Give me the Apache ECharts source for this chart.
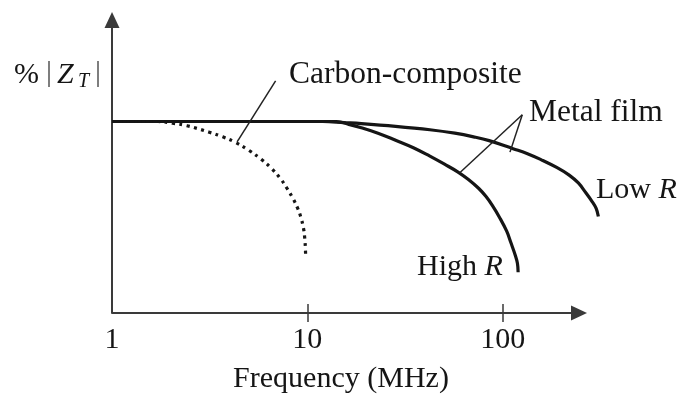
<!DOCTYPE html>
<html>
<head>
<meta charset="utf-8">
<script src="https://cdn.jsdelivr.net/npm/echarts@6/dist/echarts.min.js"></script>
<style>
  html, body { margin: 0; padding: 0; background: #fff; }
  #chart { width: 680px; height: 394px; }
</style>
</head>
<body>
<div id="chart"></div>
<script>
// Frequency axis tick labels (MHz, log scale)
const tickLabels = [1, 10, 100];
const tickMarks = [10, 100];

// Frequency axis drawn from 1 MHz up to its arrow head
const axisStart = 1;
const axisEnd = 246;

// Carbon-composite resistor: relative impedance vs frequency
const freqCarbon = [1, 1.72, 2.04, 2.42, 3.15, 3.69, 4.27, 5.01, 5.80, 6.57, 7.28, 7.88, 8.44, 8.93, 9.24, 9.56, 9.70, 9.77, 9.80];
const zCarbon    = [100, 100, 99.1, 97.8, 94.4, 92.0, 89.2, 85.0, 80.3, 75.4, 70.2, 65.0, 59.8, 54.6, 50.4, 44.2, 39.0, 34.3, 30.2];

// Metal film, high resistance
const freqHighR = [1, 14.1, 16.3, 18.9, 23.0, 28.3, 34.9, 42.4, 50.4, 59.1, 66.8, 75.5, 82.2, 88.5, 96.4, 105, 110, 116, 119, 120];
const zHighR    = [100, 100, 98.5, 96.7, 93.9, 90.2, 86.3, 81.9, 77.7, 73.6, 69.7, 65.0, 60.8, 56.2, 49.9, 42.6, 36.9, 30.2, 26.0, 21.3];

// Metal film, low resistance
const freqLowR = [1, 12.0, 15.4, 18.9, 28.3, 42.4, 56.9, 71.0, 85.3, 113, 134, 157, 189, 219, 244, 266, 287, 301, 309];
const zLowR    = [100, 100, 99.4, 98.9, 97.5, 95.7, 93.9, 92.0, 90.0, 85.8, 83.2, 80.1, 76.0, 72.0, 67.9, 62.9, 58.2, 54.6, 50.4];

// Leader lines: [point on curve, label end]
const carbonLeader = [[4.37, 89.4], [6.88, 121.2]];
const metalLeaders = [
  [[60.5, 73.4], [126, 103.5]],
  [[109, 84.0], [126, 103.5]]
];

const zip = (xs, ys) => xs.map((x, i) => [x, ys[i]]);

const SERIF = '"Liberation Serif", "DejaVu Serif", serif';
const INK = '#151515';
const AXIS = '#3a3a3a';

const chart = echarts.init(document.getElementById('chart'), null, { renderer: 'canvas' });

const leaderStyle = { color: '#222', width: 1.5, type: 'solid' };
const toMarkLine = pairs => pairs.map(p => [{ coord: p[0] }, { coord: p[1] }]);

const logAxisBase = {
  type: 'log',
  logBase: 10,
  min: 1,
  max: 315,
  splitLine: { show: false }
};

const option = {
  animation: false,
  backgroundColor: '#fff',
  grid: { left: 112, right: 80, top: 20, bottom: 81, containLabel: false, outerBoundsMode: 'none' },
  xAxis: [
    Object.assign({}, logAxisBase, {
      name: 'Frequency (MHz)',
      nameLocation: 'middle',
      nameGap: 51,
      nameTextStyle: { fontFamily: SERIF, fontSize: 30, color: INK, padding: [0, 30, 0, 0] },
      axisLine: { show: false },
      axisTick: { show: true, length: 9, lineStyle: { color: AXIS, width: 1.5 }, customValues: tickMarks },
      axisLabel: { fontFamily: SERIF, fontSize: 30, color: INK, margin: 12, customValues: tickLabels }
    }),
    Object.assign({}, logAxisBase, {
      position: 'bottom',
      axisLine: { show: false },
      axisTick: { show: true, inside: true, length: 9, lineStyle: { color: AXIS, width: 1.5 }, customValues: tickMarks },
      axisLabel: { show: false }
    })
  ],
  yAxis: {
    type: 'value',
    min: 0,
    max: 153,
    axisLine: {
      show: true,
      lineStyle: { color: AXIS, width: 2 },
      symbol: ['none', 'triangle'],
      symbolSize: [15, 16]
    },
    axisTick: { show: false },
    axisLabel: { show: false },
    splitLine: { show: false }
  },
  series: [
    {
      name: 'Carbon-composite',
      type: 'line',
      data: zip(freqCarbon, zCarbon),
      showSymbol: false,
      smooth: 0.4,
      clip: false,
      lineStyle: { color: INK, width: 3.2, type: [3, 4.5], cap: 'butt' },
      markLine: {
        silent: true,
        symbol: 'none',
        label: { show: false },
        lineStyle: leaderStyle,
        data: toMarkLine([carbonLeader])
      },
      z: 3
    },
    {
      name: 'High R',
      type: 'line',
      data: zip(freqHighR, zHighR),
      showSymbol: false,
      smooth: 0.4,
      clip: false,
      lineStyle: { color: INK, width: 3.2 },
      markLine: {
        silent: true,
        symbol: 'none',
        label: { show: false },
        lineStyle: leaderStyle,
        data: toMarkLine(metalLeaders)
      },
      z: 2
    },
    {
      name: 'Low R',
      type: 'line',
      data: zip(freqLowR, zLowR),
      showSymbol: false,
      smooth: 0.4,
      clip: false,
      lineStyle: { color: INK, width: 3.2 },
      // frequency axis line with its arrow head
      markLine: {
        silent: true,
        symbol: ['none', 'triangle'],
        symbolSize: [15, 16],
        label: { show: false },
        lineStyle: { color: AXIS, width: 2, type: 'solid' },
        data: [[{ coord: [axisStart, 0] }, { coord: [axisEnd, 0] }]]
      },
      z: 2
    }
  ],
  graphic: [
    { type: 'text', left: 14, top: 60, style: { text: '%', font: '30px ' + SERIF, fill: INK } },
    { type: 'text', left: 46, top: 58, style: { text: '|', font: '30px ' + SERIF, fill: '#555' } },
    { type: 'text', left: 57, top: 60, style: { text: 'Z', font: 'italic 30px ' + SERIF, fill: INK } },
    { type: 'text', left: 78, top: 72, style: { text: 'T', font: 'italic 20px ' + SERIF, fill: INK } },
    { type: 'text', left: 95, top: 58, style: { text: '|', font: '30px ' + SERIF, fill: '#555' } },
    { type: 'text', left: 289, top: 59, style: { text: 'Carbon-composite', font: '31.5px ' + SERIF, fill: INK } },
    { type: 'text', left: 529, top: 97, style: { text: 'Metal film', font: '31.5px ' + SERIF, fill: INK } },
    {
      type: 'text', left: 596, top: 175,
      style: {
        text: '{n|Low }{i|R}',
        rich: {
          n: { font: '30px ' + SERIF, fill: INK },
          i: { font: 'italic 30px ' + SERIF, fill: INK }
        }
      }
    },
    {
      type: 'text', left: 417, top: 252,
      style: {
        text: '{n|High }{i|R}',
        rich: {
          n: { font: '30px ' + SERIF, fill: INK },
          i: { font: 'italic 30px ' + SERIF, fill: INK }
        }
      }
    }
  ]
};

chart.setOption(option);
</script>
</body>
</html>
